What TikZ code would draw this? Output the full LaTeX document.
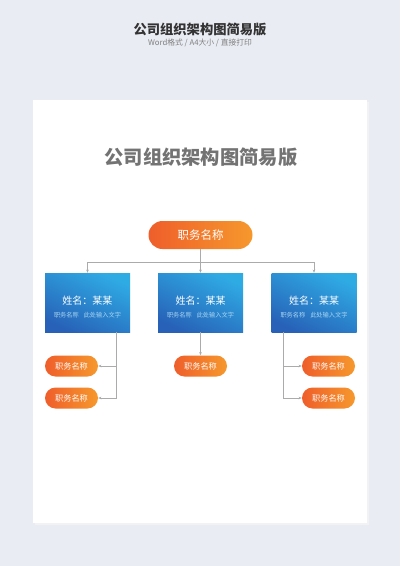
\documentclass[tikz,border=0pt]{standalone}
\usepackage{fontspec}
\setmainfont{Noto Sans CJK SC}
\usetikzlibrary{arrows.meta,positioning,shapes.misc}

\definecolor{pagebg}{HTML}{E9ECF3}
\definecolor{linegray}{HTML}{ABABAB}
\definecolor{orangedark}{HTML}{EF5E2B}
\definecolor{orangelight}{HTML}{F6982C}
\definecolor{bluelight}{HTML}{2FABE4}
\definecolor{bluedark}{HTML}{2762B8}
\definecolor{subblue}{HTML}{A9D6F2}
\definecolor{headgray}{HTML}{333333}

\begin{document}
\begin{tikzpicture}[x=1pt,y=-1pt,
    line/.style={draw=linegray,line width=0.6pt,-{Stealth[length=3.2pt,width=2.6pt]}},
    root node/.style={rounded rectangle,minimum width=104pt,minimum height=28pt,inner sep=0pt,
      left color=orangedark,right color=orangelight,text=white,font=\fontsize{11.5}{12}\selectfont},
    duty node/.style={rounded rectangle,minimum width=53pt,minimum height=21pt,inner sep=0pt,
      left color=orangedark,right color=orangelight,text=white,font=\fontsize{8.2}{9}\selectfont},
    person box/.style={rectangle,minimum width=85pt,minimum height=59pt,inner sep=0pt,
      top color=bluelight,bottom color=bluedark,shading angle=-25},
    name text/.style={text=white,font=\fontsize{10}{11}\selectfont},
    sub text/.style={text=subblue,font=\fontsize{6.2}{7}\selectfont}]

  % background and page
  \useasboundingbox (0,0) rectangle (400,566);
  \fill[pagebg] (0,0) rectangle (400,566);
  \fill[black!5] (34.5,101.5) rectangle (369,525);
  \fill[white] (33,100) rectangle (367,523);

  % headings
  \node[text=headgray,font=\fontsize{13.3}{14}\selectfont\bfseries] (head) at (200,29) {公司组织架构图简易版};
  \node[text=gray,font=\fontsize{7.8}{9}\selectfont] (subhead) at (200,43) {Word格式 / A4大小 / 直接打印};
  \node[text=black!55,font=\fontsize{19.3}{21}\selectfont\bfseries] (title) at (201,157) {公司组织架构图简易版};

  % top of the chart
  \node[root node] (root) at (200.5,235) {职务名称};
  \coordinate (bus) at (200.5,262);

  % three people
  \foreach \i/\x in {1/87.5,2/200.5,3/314}{
    \node[person box] (b\i) at (\x,302.5) {};
    \node[name text] (n\i) at ([yshift=1.5pt]b\i.center) {姓名：某某};
    \node[sub text] (s\i) at ([yshift=-12.5pt]b\i.center) {职务名称\hspace{0.8em}此处输入文字};
  }

  % duties
  \node[duty node] (d1a) at (71.5,366) {职务名称};
  \node[duty node] (d1b) at (71.5,398) {职务名称};
  \node[duty node] (d2) at (200.5,366) {职务名称};
  \node[duty node] (d3a) at (328.5,366) {职务名称};
  \node[duty node] (d3b) at (328.5,398) {职务名称};

  % connectors
  \draw[line] (root.south) -- (b2.north);
  \draw[line] (bus) -| (b1.north);
  \draw[line] (bus) -| (b3.north);
  \draw[line] ([xshift=28.5pt]b1.south) |- (d1a.east);
  \draw[line] ([xshift=28.5pt]b1.south) |- (d1b.east);
  \draw[line] (b2.south) -- (d2.north);
  \draw[line] ([xshift=-31pt]b3.south) |- (d3a.west);
  \draw[line] ([xshift=-31pt]b3.south) |- (d3b.west);
\end{tikzpicture}
\end{document}
